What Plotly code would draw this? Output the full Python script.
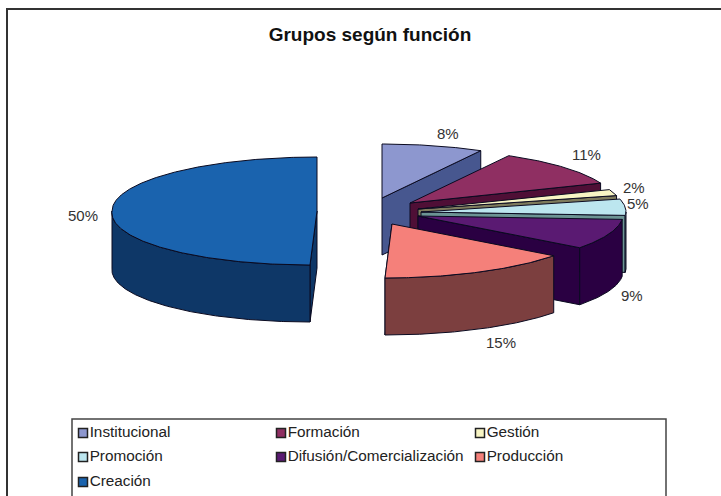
import numpy as np
import plotly.graph_objects as go

# values
categories = ["Institucional", "Formación", "Gestión", "Promoción",
              "Difusión/Comercialización", "Producción", "Creación"]
percent = [8, 11, 2, 5, 9, 15, 50]

top_colors = ["#8d97cf", "#8f2f62", "#f8f5c4", "#bce6ef", "#5a1a72", "#f5807a", "#1a63ae"]
side_colors = ["#47578f", "#4f0f36", "#7e7b5c", "#6c9494", "#2a0042", "#7c3f3f", "#0e3767"]

# exploded apex of each slice, page pixels
apex_x = [382, 410, 418, 421, 418, 392, 317]
apex_y = [198, 203, 209, 212, 216, 224, 211]
label_x = [448, 586, 634, 638, 632, 501, 83]
label_y = [133, 154, 187, 203, 295, 342, 215]

RX, RY = 205, 54
DEPTH = 57
SKEW = 7
EDGE = "#0a0a20"

legend_x = [79, 277, 476]
legend_y = [433, 457, 482]


def rim(cx, cy, start, end):
    a = np.radians(np.linspace(start, end, max(int(end - start) * 2, 2)))
    return cx + RX * np.sin(a) + SKEW * np.minimum(np.cos(a), 0), cy - RY * np.cos(a)


def poly(x, y, color, name):
    return go.Scatter(x=x, y=y, mode="lines", fill="toself", fillcolor=color, name=name,
                      line=dict(color=EDGE, width=1), hoverinfo="name", showlegend=False)


fig = go.Figure()
start = 0
for i, name in enumerate(categories):
    end = start + percent[i] * 3.6
    cx, cy = apex_x[i], apex_y[i]
    # radial face at the end of the slice, or at its start on the left half
    face = start if start >= 180 else end
    fx, fy = rim(cx, cy, face, face + 0.01)
    fig.add_trace(poly([cx, fx[0], fx[0], cx, cx], [cy, fy[0], fy[0] + DEPTH, cy + DEPTH, cy],
                       side_colors[i], name))
    # outer wall, only the near half of the rim
    lo, hi = max(start, 90), min(end, 270)
    if hi > lo:
        wx, wy = rim(cx, cy, lo, hi)
        fig.add_trace(poly(np.r_[wx, wx[::-1], wx[0]], np.r_[wy, wy[::-1] + DEPTH, wy[0]],
                           side_colors[i], name))
    tx, ty = rim(cx, cy, start, end)
    fig.add_trace(poly(np.r_[cx, tx, cx], np.r_[cy, ty, cy], top_colors[i], name))
    fig.add_annotation(x=label_x[i], y=label_y[i], text=f"{percent[i]}%", showarrow=False,
                       font=dict(size=15, color="#333333"))
    start = end

# legend laid out row by row, three columns
lx = [legend_x[i % 3] + 4 for i in range(len(categories))]
ly = [legend_y[i // 3] for i in range(len(categories))]
fig.add_trace(go.Scatter(x=lx, y=ly, mode="markers+text", text=categories,
                         textposition="middle right", showlegend=False, hoverinfo="skip",
                         textfont=dict(size=15.3, color="#222222"),
                         marker=dict(symbol="square", size=9, color=top_colors,
                                     line=dict(color="#222222", width=1.5))))

fig.add_shape(type="rect", x0=7, y0=9, x1=740, y1=520, line=dict(color="#333333", width=2))
fig.add_shape(type="rect", x0=72, y0=419, x1=666, y1=520, line=dict(color="#444444", width=1.5))

fig.update_layout(
    width=721, height=496, margin=dict(l=0, r=0, t=0, b=0),
    paper_bgcolor="white", plot_bgcolor="white",
    font=dict(family="Liberation Sans"),
    title=dict(text="<b>Grupos según función</b>", x=370 / 721, xanchor="center",
               y=1 - 34 / 496, yanchor="middle", font=dict(size=19, color="#111111")),
    xaxis=dict(range=[0, 721], visible=False),
    yaxis=dict(range=[496, 0], visible=False),
)

# page margin would push the figure off by 8 px
fig.write_html("out.html", config=dict(displayModeBar=False),
               post_script="document.body.style.margin='0';")
